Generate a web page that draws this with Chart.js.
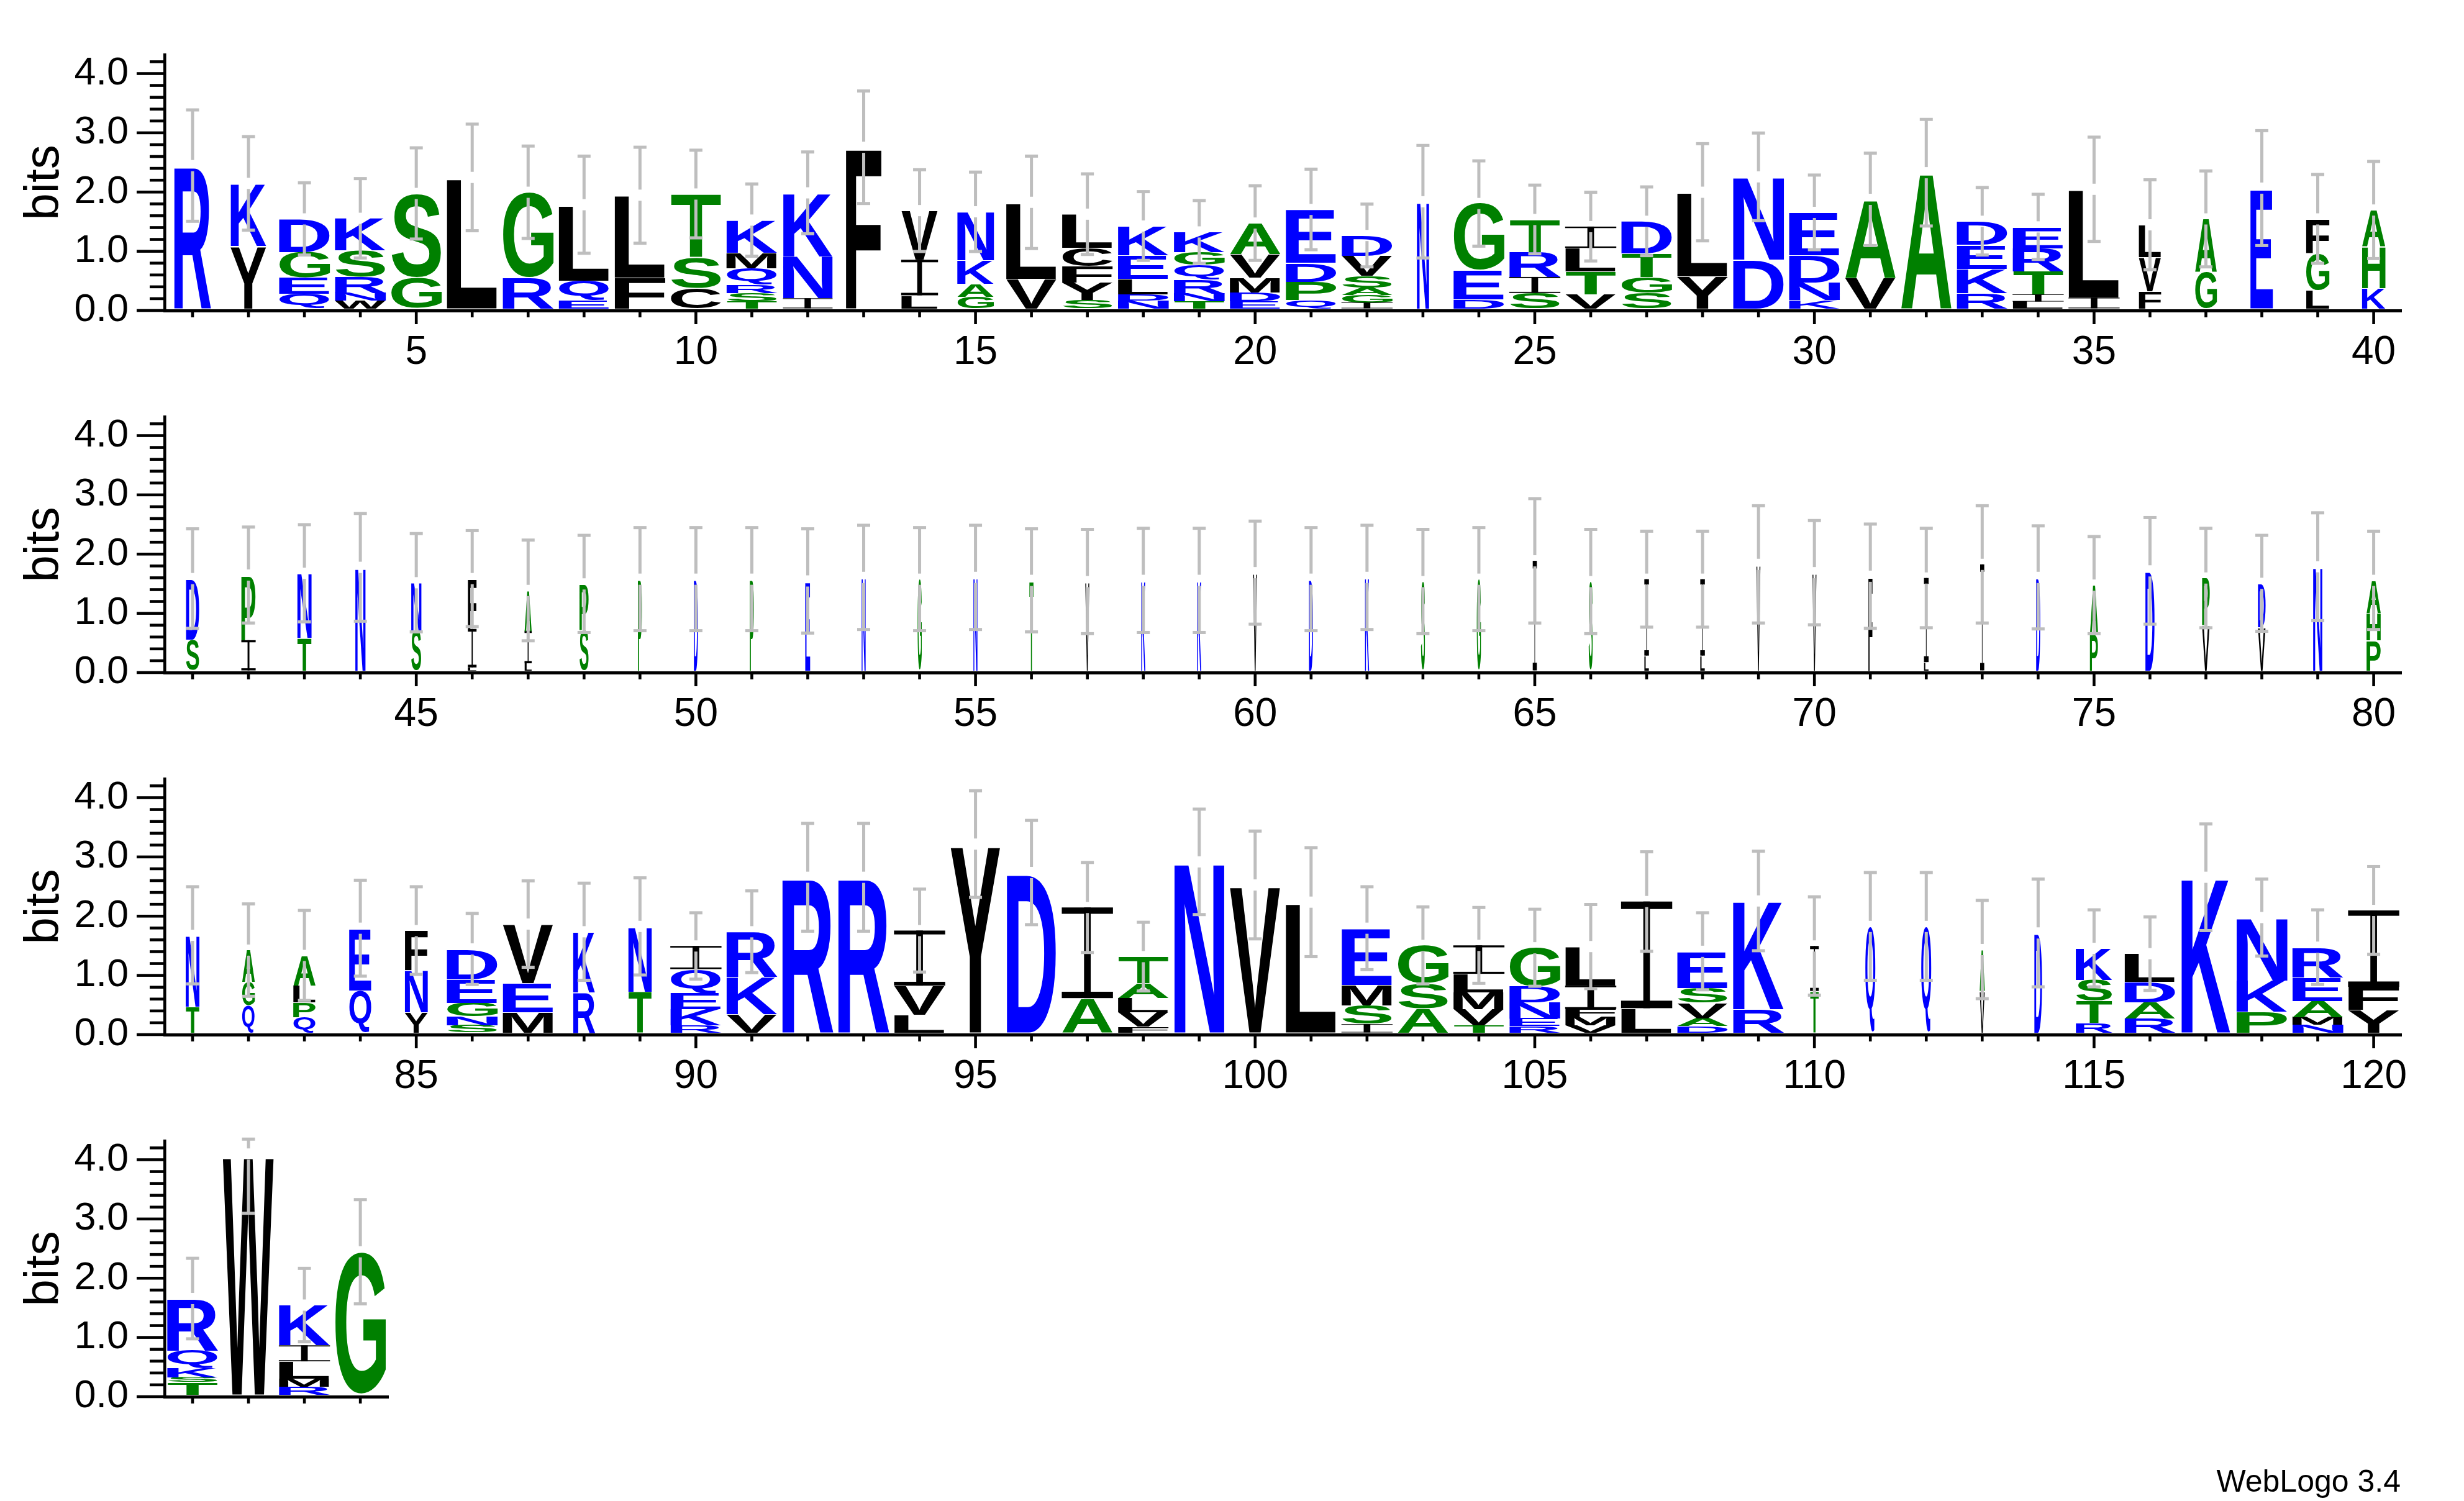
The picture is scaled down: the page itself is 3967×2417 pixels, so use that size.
<!DOCTYPE html>
<html>
<head>
<meta charset="utf-8">
<script src="https://cdn.jsdelivr.net/npm/chart.js@4.4.1/dist/chart.umd.min.js"></script>
<style>
  html, body { margin: 0; padding: 0; background: #ffffff; }
  body { width: 3967px; height: 2417px; position: relative; overflow: hidden; }
  canvas { position: absolute; left: 0; }
  #credit { position: absolute; right: 102px; top: 2360px; font: 50px 'Liberation Sans', Arial, sans-serif; line-height: 50px; color: #000; white-space: nowrap; }
</style>
</head>
<body>
<canvas id="row0" width="3967" height="660" style="top:0px;width:3967px;height:660px"></canvas>
<canvas id="row1" width="3967" height="660" style="top:583px;width:3967px;height:660px"></canvas>
<canvas id="row2" width="3967" height="660" style="top:1166px;width:3967px;height:660px"></canvas>
<canvas id="row3" width="700" height="660" style="top:1749px;width:700px;height:660px"></canvas>
<div id="credit">WebLogo 3.4</div>
<script>
// ---------------- DATA (positions 1..124) ----------------
// letters of each stack, listed bottom to top
const letterStacks = [
  "R","YK","QEGD","WNRSK","GS","L","RG","EQL","FL","CST",
  "TSRQMK","INK","F","LIV","GAKN","VL","SYFCL","NDLEK","TNRQGK","EDMVA",
  "QPDE","IGASVD","N","DEG","SIRT","VTLI","SGTD","YL","DN","KNDE",
  "VA","A","RKED","LITRE","IL","FVL","GA","E","LGF","KHA",
  "SD","IP","TN","N","SN","LIF","LIA","SP","P","D",
  "P","E","N","G","N","T","V","K","K","V",
  "D","K","S","G","I","S","LI","LI","V","V",
  "F","LI","I","D","PA","D","VP","VD","N","PHA",
  "TN","QGA","QPLA","QE","YNF","SNGED","MEV","RK","TN","RKEQI",
  "VKR","R","R","LVI","Y","D","AI","FVLAT","N","V",
  "L","ISME","ASG","TVMLI","RENDG","VMFIL","LI","DAVSE","RK","TI",
  "Q","Q","VA","D","RTSK","RADL","K","PKN","NMAER","YFI",
  "TSKQR","W","RMLIK","G"
];
// height (bits) of each letter, bottom to top
const bitHeights = [
  [2.41],[1.05,1.06],[0.25,0.27,0.43,0.56],[0.13,0.13,0.27,0.45,0.54],[0.52,1.42],[2.21],[0.52,1.44],[0.14,0.33,1.28],[0.52,1.39],[0.34,0.52,1.07],
  [0.12,0.14,0.14,0.28,0.26,0.55],[0.17,0.71,1.07],[2.72],[0.22,0.60,0.83],[0.19,0.22,0.40,0.82],[0.50,1.29],[0.14,0.30,0.27,0.31,0.57],[0.13,0.11,0.26,0.40,0.49],[0.12,0.13,0.23,0.25,0.22,0.34],[0.12,0.15,0.25,0.40,0.52],
  [0.14,0.31,0.32,0.90],[0.10,0.13,0.12,0.20,0.34,0.34],[1.80],[0.15,0.49,1.13],[0.26,0.27,0.42,0.55],[0.24,0.38,0.40,0.36],[0.26,0.27,0.40,0.54],[0.54,1.42],[0.82,1.40],[0.14,0.30,0.46,0.72],
  [0.52,1.32],[2.29],[0.26,0.41,0.40,0.40],[0.115,0.12,0.39,0.39,0.36],[0.18,1.83],[0.29,0.58,0.54],[0.61,0.90],[2.03],[0.31,0.62,0.58],[0.34,0.70,0.62],
  [0.52,1.03],[0.51,1.10],[0.55,1.09],[1.74],[0.68,0.80],[0.05,0.65,0.85],[0.12,0.55,0.68],[0.68,0.78],[1.54],[1.54],
  [1.54],[1.51],[1.57],[1.54],[1.57],[1.52],[1.50],[1.52],[1.52],[1.65],
  [1.54],[1.57],[1.50],[1.54],[1.85],[1.50],[0.25,1.29],[0.25,1.29],[1.79],[1.65],
  [1.59],[0.14,1.42],[1.79],[1.57],[0.62,0.82],[1.68],[0.76,0.80],[0.73,0.74],[1.75],[0.51,0.46,0.55],
  [0.44,1.20],[0.46,0.39,0.54],[0.26,0.25,0.28,0.51],[0.71,1.05],[0.34,0.71,0.67],[0.12,0.15,0.23,0.40,0.51],[0.34,0.49,1.00],[0.68,1.02],[0.69,1.10],[0.12,0.27,0.27,0.41,0.39],
  [0.31,0.63,0.76],[2.62],[2.62],[0.30,0.49,0.93],[3.18],[2.70],[0.58,1.53],[0.10,0.24,0.24,0.25,0.45],[2.88],[2.49],
  [2.20],[0.14,0.32,0.34,0.96],[0.41,0.42,0.64],[0.12,0.27,0.29,0.31,0.48],[0.11,0.13,0.27,0.27,0.65],[0.12,0.15,0.13,0.39,0.66],[0.41,1.80],[0.11,0.13,0.26,0.25,0.62],[0.39,1.83],[0.70,0.76],
  [1.79],[1.79],[0.70,0.70],[1.68],[0.16,0.37,0.36,0.53],[0.24,0.27,0.34,0.48],[2.62],[0.35,0.53,1.06],[0.13,0.13,0.27,0.40,0.51],[0.38,0.39,1.29],
  [0.21,0.08,0.16,0.29,0.88],[4.06],[0.13,0.14,0.29,0.27,0.68],[2.41]
];
// half-length of the error bar (bits)
const errorBars = [
  0.94,0.79,0.61,0.67,0.77,0.90,0.78,0.82,0.81,0.74,
  0.61,0.69,0.95,0.69,0.67,0.78,0.68,0.58,0.53,0.63,
  0.68,0.53,0.95,0.72,0.58,0.58,0.58,0.82,0.74,0.63,
  0.78,0.90,0.57,0.55,0.88,0.76,0.81,0.97,0.75,0.82,
  0.84,0.81,0.82,0.91,0.83,0.81,0.85,0.82,0.87,0.87,
  0.87,0.88,0.88,0.87,0.88,0.87,0.88,0.88,0.88,0.87,
  0.87,0.88,0.88,0.87,1.05,0.88,0.81,0.81,0.99,0.88,
  0.88,0.84,0.99,0.87,0.82,0.90,0.84,0.81,0.91,0.83,
  0.82,0.78,0.76,0.81,0.74,0.60,0.73,0.82,0.82,0.56,
  0.69,0.91,0.91,0.70,0.90,0.88,0.76,0.58,0.89,0.91,
  0.92,0.70,0.65,0.64,0.65,0.71,0.84,0.65,0.84,0.83,
  0.91,0.91,0.83,0.91,0.65,0.62,0.90,0.65,0.63,0.74,
  0.68,1.00,0.62,0.88
];
// relative stack width (fraction of occupied sequences)
const stackWidths = [
  0.72,0.70,1,1,1,1,1,1,1,1,
  1,0.97,0.70,0.72,0.72,1,1,1,1,1,
  1,1,0.24,1,1,1,1,1,1,1,
  1,1,1,1,1,0.44,0.43,0.45,0.46,0.46,
  0.26,0.28,0.28,0.20,0.20,0.17,0.14,0.18,0.08,0.08,
  0.08,0.10,0.08,0.08,0.08,0.08,0.08,0.08,0.08,0.08,
  0.08,0.08,0.08,0.08,0.08,0.08,0.09,0.09,0.08,0.08,
  0.08,0.09,0.08,0.08,0.16,0.18,0.15,0.15,0.18,0.28,
  0.27,0.25,0.44,0.44,0.45,1,1,0.43,0.46,1,
  1,1,1,1,0.97,0.97,1,1,0.98,1,
  1,1,1,1,1,1,1,1,1,0.17,
  0.20,0.20,0.10,0.15,0.72,1,0.96,1,1,1,
  1,1,1,1
];
const rowStarts = [1, 41, 81, 121];
const rowEnds = [40, 80, 120, 124];
const xTickLabels = [
  [5,10,15,20,25,30,35,40],
  [45,50,55,60,65,70,75,80],
  [85,90,95,100,105,110,115,120],
  []
];
const yTickValues = [0, 1, 2, 3, 4];
const yAxisMax = Math.log2(20);
const blueLetters = "RKDENQ";
const greenLetters = "SGHTAP";
const blackLetters = "YVMCLFIW";

// ---------------- RENDERING ----------------
const POS_PX = 90.04, AXIS_LEFT = 265, BASE_Y = 500, PLOT_TOP = BASE_Y - yAxisMax * 104.3;
const LETTER_FONT = "bold 400px 'Liberation Sans', Arial, sans-serif";
const glyphCache = {};

function letterColor(ch) {
  if (blueLetters.includes(ch)) return '#0000ff';
  if (greenLetters.includes(ch)) return '#008000';
  return '#000000';
}
function glyphBox(ctx, ch) {
  if (!glyphCache[ch]) {
    ctx.save();
    ctx.font = LETTER_FONT;
    const m = ctx.measureText(ch);
    ctx.restore();
    glyphCache[ch] = { l: m.actualBoundingBoxLeft, r: m.actualBoundingBoxRight, a: m.actualBoundingBoxAscent, d: m.actualBoundingBoxDescent };
  }
  return glyphCache[ch];
}
function drawLetter(ctx, ch, x0, yTop, w, h) {
  if (w <= 0 || h <= 0.2) return;
  ctx.fillStyle = letterColor(ch);
  if (ch === 'I') {
    const bar = Math.max(h * 0.07, 0.9);
    const stem = Math.max(w * 0.13, 0.6);
    ctx.fillRect(x0, yTop, w, bar);
    ctx.fillRect(x0, yTop + h - bar, w, bar);
    ctx.fillRect(x0 + (w - stem) / 2, yTop, stem, h);
    return;
  }
  const g = glyphBox(ctx, ch);
  const gw = g.l + g.r, gh = g.a + g.d;
  ctx.save();
  ctx.translate(x0, yTop);
  ctx.scale(w / gw, h / gh);
  ctx.font = LETTER_FONT;
  ctx.textAlign = 'left';
  ctx.textBaseline = 'alphabetic';
  ctx.fillText(ch, g.l, g.a);
  ctx.restore();
}

const logoPlugin = {
  id: 'logo',
  afterDatasetsDraw(chart, args, opts) {
    const ctx = chart.ctx;
    const x = chart.scales.x, y = chart.scales.y;
    const start = opts.start, end = opts.end;
    const LIFT = 3.5;
    ctx.save();
    // tick marks on x axis
    ctx.fillStyle = '#000';
    for (let p = start; p <= end; p++) {
      const px = x.getPixelForValue(p);
      const len = (p % 5 === 0) ? 22 : 11;
      ctx.fillRect(px - 2.3, y.getPixelForValue(0), 4.6, len);
    }
    // tick marks on y axis (major every 1.0, minor every 0.2)
    for (let k = 0; k <= 21; k++) {
      const v = k * 0.2;
      const py = y.getPixelForValue(v);
      const len = (k % 5 === 0) ? 45 : 24;
      ctx.fillRect(x.left - len, py - 2.3, len, 4.6);
    }
    // letter stacks
    for (let p = start; p <= end; p++) {
      const i = p - 1;
      const cx = x.getPixelForValue(p);
      const full = x.getPixelForValue(p + 0.5) - x.getPixelForValue(p - 0.5);
      const w = full * 0.915 * stackWidths[i];
      let acc = 0;
      const letters = letterStacks[i];
      for (let k = 0; k < letters.length; k++) {
        const h = bitHeights[i][k];
        const yb = y.getPixelForValue(acc) - LIFT;
        const yt = y.getPixelForValue(acc + h) - LIFT;
        drawLetter(ctx, letters[k], cx - w / 2, yt, w, yb - yt);
        acc += h;
      }
      // error bar
      const e = errorBars[i];
      const lo = Math.max(acc - e, 0), hi = Math.min(acc + e, yAxisMax - 0.01);
      const pLo = y.getPixelForValue(lo) - LIFT, pHi = y.getPixelForValue(hi) - LIFT, pMid = y.getPixelForValue(acc) - LIFT;
      const GAP = 9;
      ctx.fillStyle = '#bebebe';
      if (pLo > pMid + GAP) ctx.fillRect(cx - 2.5, pMid + GAP, 5, pLo - pMid - GAP);
      if (pHi < pMid - GAP) ctx.fillRect(cx - 2.5, pHi, 5, pMid - GAP - pHi);
      ctx.fillRect(cx - 10.5, pLo - 2.5, 21, 5);
      ctx.fillRect(cx - 10.5, pHi - 2.5, 21, 5);
    }
    ctx.restore();
  }
};

Chart.defaults.font.family = "'Liberation Sans', Arial, sans-serif";
Chart.defaults.color = '#000';

for (let r = 0; r < 4; r++) {
  const start = rowStarts[r], end = rowEnds[r];
  const canvas = document.getElementById('row' + r);
  const W = canvas.width, H = canvas.height;
  const pts = [];
  for (let p = start; p <= end; p++) {
    pts.push({ x: p, y: bitHeights[p - 1].reduce((a, b) => a + b, 0) });
  }
  const labels = xTickLabels[r];
  new Chart(canvas, {
    type: 'scatter',
    data: { datasets: [{ data: pts, pointRadius: 0, pointHoverRadius: 0, showLine: false }] },
    options: {
      responsive: false,
      devicePixelRatio: 1,
      animation: false,
      events: [],
      layout: { padding: { left: 0, top: PLOT_TOP, bottom: 0, right: W - AXIS_LEFT - (end - start + 1) * POS_PX } },
      plugins: { legend: { display: false }, tooltip: { enabled: false }, logo: { start: start, end: end } },
      scales: {
        x: {
          type: 'linear',
          min: start - 0.5,
          max: end + 0.5,
          grid: { display: false },
          border: { display: true, color: '#000', width: 5 },
          ticks: { padding: 22, font: { size: 64 }, color: '#000', maxRotation: 0, autoSkip: false, callback: (v) => String(v) },
          afterBuildTicks: (s) => { s.ticks = labels.map(v => ({ value: v })); },
          afterFit: (s) => { s.height = H - BASE_Y; }
        },
        y: {
          type: 'linear',
          min: 0,
          max: yAxisMax,
          grid: { display: false },
          border: { display: true, color: '#000', width: 4.6 },
          ticks: { padding: 50, font: { size: 63 }, color: '#000', callback: (v) => Number(v).toFixed(1) },
          afterBuildTicks: (s) => { s.ticks = yTickValues.map(v => ({ value: v })); },
          afterFit: (s) => { s.width = AXIS_LEFT; },
          title: { display: true, text: 'bits', font: { size: 78 }, color: '#000', padding: { top: 26, bottom: 0 } }
        }
      }
    },
    plugins: [logoPlugin]
  });
}
</script>
</body>
</html>
